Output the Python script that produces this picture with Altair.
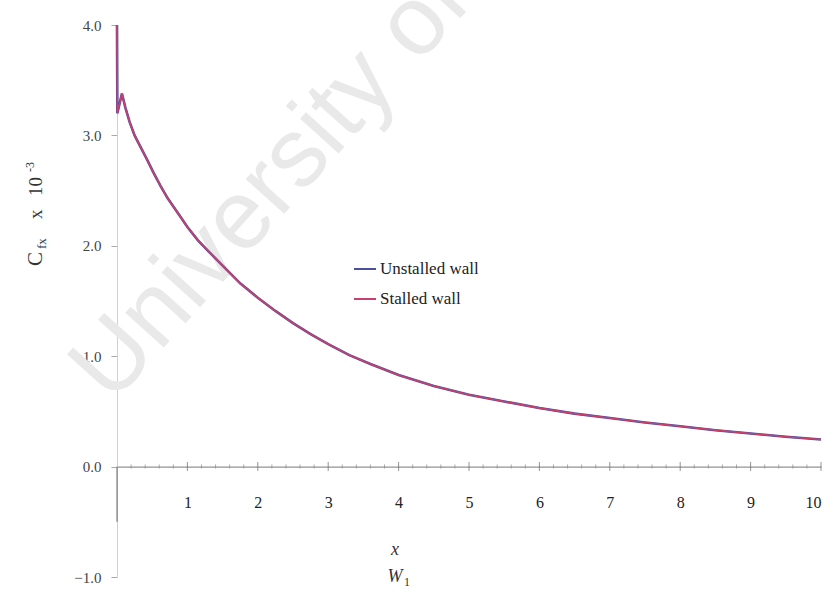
import altair as alt
import pandas as pd

# Skin-friction coefficient along the wall, plotted against x / W1
x_over_w1 = [0.0, 0.005, 0.07, 0.12, 0.18, 0.25, 0.33, 0.42, 0.52, 0.62, 0.72,
             0.85, 1.0, 1.15, 1.3, 1.5, 1.75, 2.0, 2.25, 2.5, 2.75, 3.0, 3.3,
             3.6, 4.0, 4.5, 5.0, 5.5, 6.0, 6.5, 7.0, 7.5, 8.0, 8.5, 9.0, 9.5,
             10.0]
cfx_unstalled = [4.0, 3.2, 3.38, 3.25, 3.12, 3.00, 2.90, 2.79, 2.66, 2.54, 2.43,
                 2.31, 2.17, 2.05, 1.95, 1.82, 1.66, 1.53, 1.41, 1.30, 1.20,
                 1.11, 1.01, 0.93, 0.83, 0.73, 0.65, 0.59, 0.53, 0.48, 0.44,
                 0.40, 0.365, 0.33, 0.30, 0.27, 0.245]
cfx_stalled = [4.0, 3.2, 3.38, 3.25, 3.12, 3.00, 2.90, 2.79, 2.66, 2.54, 2.43,
               2.31, 2.17, 2.05, 1.95, 1.82, 1.66, 1.53, 1.41, 1.30, 1.20,
               1.11, 1.01, 0.93, 0.83, 0.73, 0.65, 0.59, 0.53, 0.48, 0.44,
               0.40, 0.365, 0.33, 0.30, 0.27, 0.245]
series_names = ["Unstalled wall", "Stalled wall"]
series_colors = ["#4b4f9e", "#c9406e"]

x_tick_labels = [1, 2, 3, 4, 5, 6, 7, 8, 9, 10]
y_tick_labels = [-1.0, 0.0, 1.0, 2.0, 3.0, 4.0]
minor_ticks = [i / 5 for i in range(1, 51) if i % 5]

curves = pd.concat([
    pd.DataFrame({"x": x_over_w1, "y": cfx_unstalled, "series": series_names[0]}),
    pd.DataFrame({"x": x_over_w1, "y": cfx_stalled, "series": series_names[1]}),
])
major_df = pd.DataFrame({"x": x_tick_labels, "y": [0.0] * len(x_tick_labels)})
minor_df = pd.DataFrame({"x": minor_ticks, "y": [0.0] * len(minor_ticks)})

SERIF = "Liberation Serif"

x_enc = alt.X(
    "x:Q",
    scale=alt.Scale(domain=[0, 10], nice=False),
    axis=alt.Axis(values=x_tick_labels, format="d", ticks=False, grid=False,
                  domainColor="#777", labelFont=SERIF, labelFontSize=16,
                  labelColor="#222", labelPadding=28, offset=-110.4, title=None),
)
y_enc = alt.Y(
    "y:Q",
    scale=alt.Scale(domain=[-1, 4], nice=False),
    axis=alt.Axis(values=y_tick_labels, format=".1f", tickSize=6, tickColor="#aaa",
                  grid=False, domainColor="#d0d0d0", labelFont=SERIF,
                  labelFontSize=15, labelColor="#444", labelPadding=10, title=None),
)
color_enc = alt.Color(
    "series:N",
    scale=alt.Scale(domain=series_names, range=series_colors),
    legend=alt.Legend(title=None, orient="none", legendX=236, legendY=232,
                      symbolType="stroke", symbolSize=484, symbolStrokeWidth=2,
                      labelFont=SERIF, labelFontSize=17, labelColor="#222",
                      rowPadding=10, labelOffset=3),
)

watermark = alt.Chart().mark_text(
    text="University of Cape Town", font="Liberation Sans", fontSize=98,
    color="#e9e9e9", angle=312, align="left", baseline="alphabetic",
).encode(x=alt.value(-5), y=alt.value(380))

unstalled = alt.Chart(curves).transform_filter(
    alt.datum.series == series_names[0]
).mark_line(strokeWidth=2.6).encode(x=x_enc, y=y_enc, color=color_enc)

stalled = alt.Chart(curves).transform_filter(
    alt.datum.series == series_names[1]
).mark_line(strokeWidth=1.6).encode(x=x_enc, y=y_enc, color=color_enc)

major = alt.Chart(major_df).mark_tick(
    orient="vertical", size=9, thickness=1, color="#666"
).encode(x=x_enc, y=y_enc)

minor = alt.Chart(minor_df).mark_tick(
    orient="vertical", size=4, thickness=1, color="#888"
).encode(x=x_enc, y=y_enc)

# darker stretch of the wall axis below the x axis
stub = alt.Chart().mark_rule(color="#666", strokeWidth=1).encode(
    x=alt.datum(0), y=alt.datum(0), y2=alt.datum(-0.5)
)

def label(text, px, py, size, angle=0, style="normal", align="left"):
    return alt.Chart().mark_text(
        text=text, font=SERIF, fontSize=size, color="#333", angle=angle,
        fontStyle=style, align=align, baseline="alphabetic",
    ).encode(x=alt.value(px), y=alt.value(py))

# y title: C_fx x 10^-3, written bottom-to-top
y_title = [
    label("C", -75, 241, 21, angle=270),
    label("fx", -71, 224, 13, angle=270),
    label("x", -75, 194, 19, angle=270),
    label("10", -75, 171, 19, angle=270),
    label("-3", -83, 147, 12, angle=270),
]
# x title: x over W1
x_title = [
    label("x", 278, 530, 18, style="italic", align="center"),
    label("W", 278, 557, 18, style="italic", align="center"),
    label("1", 287, 561, 12, align="left"),
]

chart = alt.layer(
    watermark, stub, minor, major, unstalled, stalled, *y_title, *x_title
).properties(
    width=704, height=552,
    padding={"left": 117, "top": 25, "right": 16, "bottom": 32},
    autosize=alt.AutoSizeParams(type="none"),
    background="white",
).configure_view(stroke=None)

chart.save("out.html", embed_options={"renderer": "svg", "actions": False})
